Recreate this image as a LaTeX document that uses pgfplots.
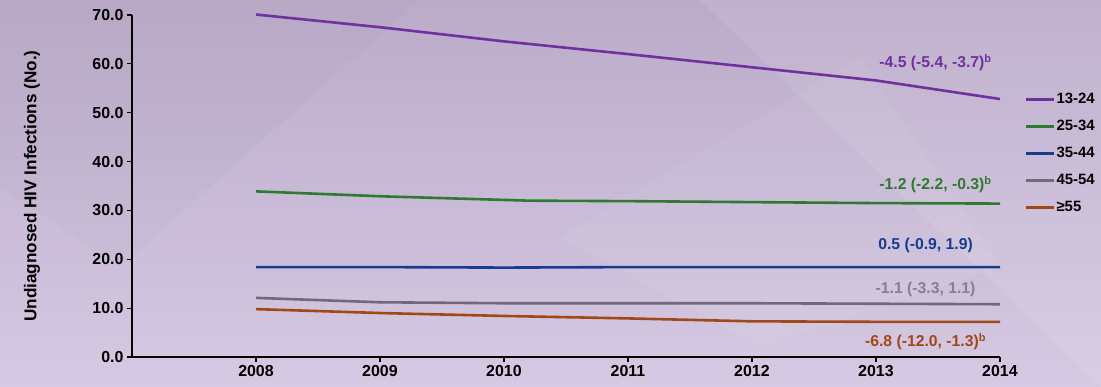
\documentclass[border=0pt]{standalone}
\usepackage{pgfplots}
\pgfplotsset{compat=1.18}
\usepackage{fontspec}
\setmainfont{Liberation Sans}
\definecolor{c1}{HTML}{7030A0}
\definecolor{c2}{HTML}{2E7A2E}
\definecolor{c3}{HTML}{153D8F}
\definecolor{c4}{HTML}{6E6A7C}
\definecolor{c5}{HTML}{A04818}
\definecolor{bgtop}{HTML}{BBABC9}
\definecolor{bgbot}{HTML}{D6C9E3}
\begin{document}
\begin{tikzpicture}
\shade[top color=bgtop, bottom color=bgbot] (0,0) rectangle (1101bp,387bp);
\fill[white, opacity=0.08] (700bp,387bp) -- (1101bp,387bp) -- (1101bp,0) -- cycle;
\fill[black, opacity=0.015] (0,387bp) -- (420bp,387bp) -- (120bp,120bp) -- (0,200bp) -- cycle;
\fill[white, opacity=0.05] (560bp,150bp) -- (860bp,330bp) -- (1000bp,120bp) -- (760bp,40bp) -- cycle;
\useasboundingbox (0,0) rectangle (1101bp,387bp);
\begin{axis}[
  at={(132bp,30bp)}, anchor=origin,
  scale only axis, width=868bp, height=342bp,
  xmin=2007, xmax=2014, ymin=0, ymax=70,
  axis x line=bottom, axis y line=left,
  axis line style={-, black, line width=1.6bp},
  xtick={2008,...,2014}, ytick={0,10,...,70},
  tick align=outside, major tick length=5bp,
  tick style={black, line width=1.2bp},
  /pgf/number format/assume math mode=true,
  x tick label style={/pgf/number format/1000 sep={}},
  y tick label style={/pgf/number format/.cd, fixed, fixed zerofill, precision=1},
  tick label style={font=\bfseries\fontsize{16}{18}\selectfont, black},
  ylabel={Undiagnosed HIV Infections (No.)},
  ylabel style={at={(axis description cs:-0.102,0.5)}, anchor=south, font=\bfseries\fontsize{17.2}{19}\selectfont},
  legend style={draw=none, fill=none, at={(1.028,0.775)}, anchor=north west,
    font=\bfseries\fontsize{15}{17}\selectfont, row sep=13.2bp, inner sep=0pt,
    nodes={inner sep=1bp}},
  legend cell align=left,
  legend image code/.code={\draw[#1, line width=3bp] (0,0) -- (28bp,0);},
  every axis plot/.append style={line width=2.6bp, no marks},
  clip=false,
]
\addplot[c1] coordinates {(2008,70.1) (2009,67.5) (2010,64.6) (2011,62.0) (2012,59.3) (2013,56.6) (2014,52.8)};
\addlegendentry{13-24}
\addplot[c2] coordinates {(2008,33.9) (2009,32.9) (2010.2,32.0) (2011,31.9) (2012,31.7) (2013,31.5) (2014,31.4)};
\addlegendentry{25-34}
\addplot[c3] coordinates {(2008,18.4) (2009,18.4) (2010,18.3) (2011,18.4) (2012,18.4) (2013,18.4) (2014,18.4)};
\addlegendentry{35-44}
\addplot[c4] coordinates {(2008,12.1) (2009,11.2) (2010,11.0) (2011,11.0) (2012,11.0) (2013,10.9) (2014,10.8)};
\addlegendentry{45-54}
\addplot[c5] coordinates {(2008,9.8) (2009,9.0) (2010,8.4) (2011,7.9) (2012,7.3) (2013,7.2) (2014,7.2)};
\addlegendentry{≥55}
\node[c1, font=\bfseries\fontsize{15.8}{17}\selectfont] at (axis cs:2013.48,60.3) {-4.5 (-5.4, -3.7)\textsuperscript{b}};
\node[c2, font=\bfseries\fontsize{15.8}{17}\selectfont] at (axis cs:2013.48,35.2) {-1.2 (-2.2, -0.3)\textsuperscript{b}};
\node[c3, font=\bfseries\fontsize{15.8}{17}\selectfont] at (axis cs:2013.4,22.9) {0.5 (-0.9, 1.9)};
\node[c4!85!white, font=\bfseries\fontsize{15.8}{17}\selectfont] at (axis cs:2013.4,13.9) {-1.1 (-3.3, 1.1)};
\node[c5, font=\bfseries\fontsize{15.8}{17}\selectfont] at (axis cs:2013.4,3.1) {-6.8 (-12.0, -1.3)\textsuperscript{b}};
\end{axis}
\end{tikzpicture}
\end{document}
